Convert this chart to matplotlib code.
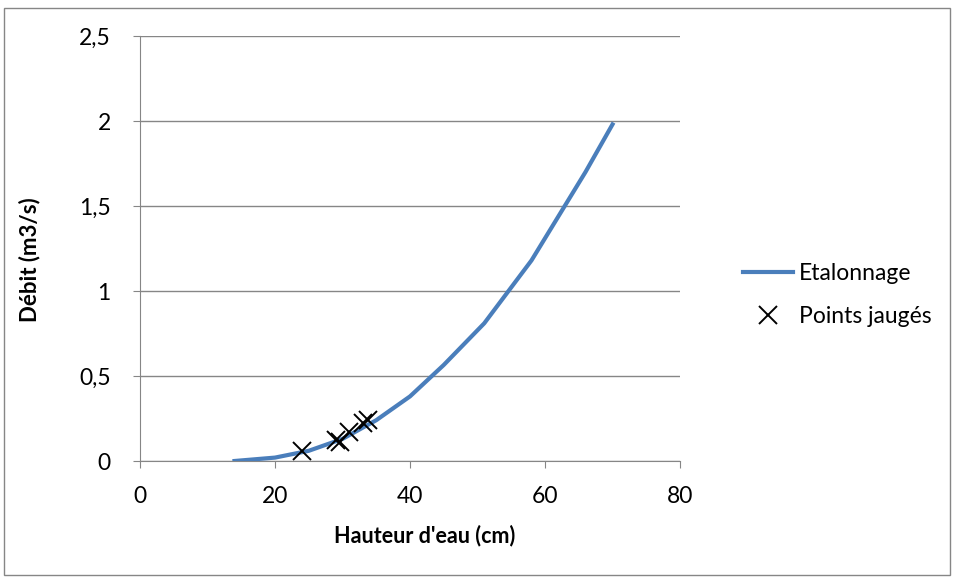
import matplotlib
matplotlib.use("Agg")
import matplotlib.pyplot as plt
from matplotlib.ticker import FuncFormatter
from matplotlib.patches import Rectangle

# courbe d'etalonnage
hauteur = [14, 20, 25, 30, 35, 40, 45, 51, 58, 66, 70]
debit = [0.0, 0.02, 0.06, 0.13, 0.24, 0.38, 0.565, 0.81, 1.18, 1.70, 1.98]

# points jauges
h_jauge = [24.0, 29.1, 29.6, 30.9, 33.1, 33.8]
q_jauge = [0.059, 0.124, 0.114, 0.169, 0.222, 0.241]

xticks = [0, 20, 40, 60, 80]
yticks = [0, 0.5, 1, 1.5, 2, 2.5]

plt.rcParams['font.family'] = ['Lato', 'DejaVu Sans']
W, H = 957, 581
fig = plt.figure(figsize=(W / 100, H / 100), dpi=100)
fig.patches.append(Rectangle((4 / W, 6 / H), 946 / W, 567 / H, transform=fig.transFigure,
                             fill=False, edgecolor='#868686', lw=1))

ax = fig.add_axes([140 / W, (H - 461) / H, 540 / W, 425 / H])
ax.plot(hauteur, debit, color='#4A7EBB', lw=3, label='Etalonnage', zorder=3)
ax.plot(h_jauge, q_jauge, 'x', color='black', ms=13, mew=1.4, label='Points jaugés', zorder=4)

ax.set_xlim(0, 80)
ax.set_ylim(0, 2.5)
ax.set_xticks(xticks)
ax.set_yticks(yticks)
ax.yaxis.set_major_formatter(FuncFormatter(lambda v, p: ('%g' % v).replace('.', ',')))
ax.grid(axis='y', color='#868686', lw=1)
ax.set_axisbelow(True)
for s in ['top', 'right']:
    ax.spines[s].set_visible(False)
for s in ['left', 'bottom']:
    ax.spines[s].set_color('#868686')
ax.tick_params(axis='both', colors='#868686', labelcolor='black', labelsize=16.5, length=5)
ax.tick_params(axis='x', pad=13)
ax.tick_params(axis='y', pad=16)

ax.set_xlabel("Hauteur d'eau (cm)", fontsize=15.5, fontweight='bold', labelpad=12)
ax.xaxis.set_label_coords(425 / W, 536 / H, transform=fig.transFigure)
ax.set_ylabel("Débit (m3/s)", fontsize=16, fontweight='bold')
ax.yaxis.set_label_coords(30 / W, (H - 260) / H, transform=fig.transFigure)
ax.yaxis.label.set_va('center')
ax.xaxis.label.set_va('center')
ax.xaxis.set_label_coords(425 / W, (H - 536) / H, transform=fig.transFigure)

ax.legend(loc='center left', bbox_to_anchor=(722 / W, (H - 295) / H), bbox_transform=fig.transFigure,
          frameon=False, fontsize=16.5, handlelength=2.2, handletextpad=0.25, labelspacing=1.0)

fig.savefig('out.png', dpi=100)
